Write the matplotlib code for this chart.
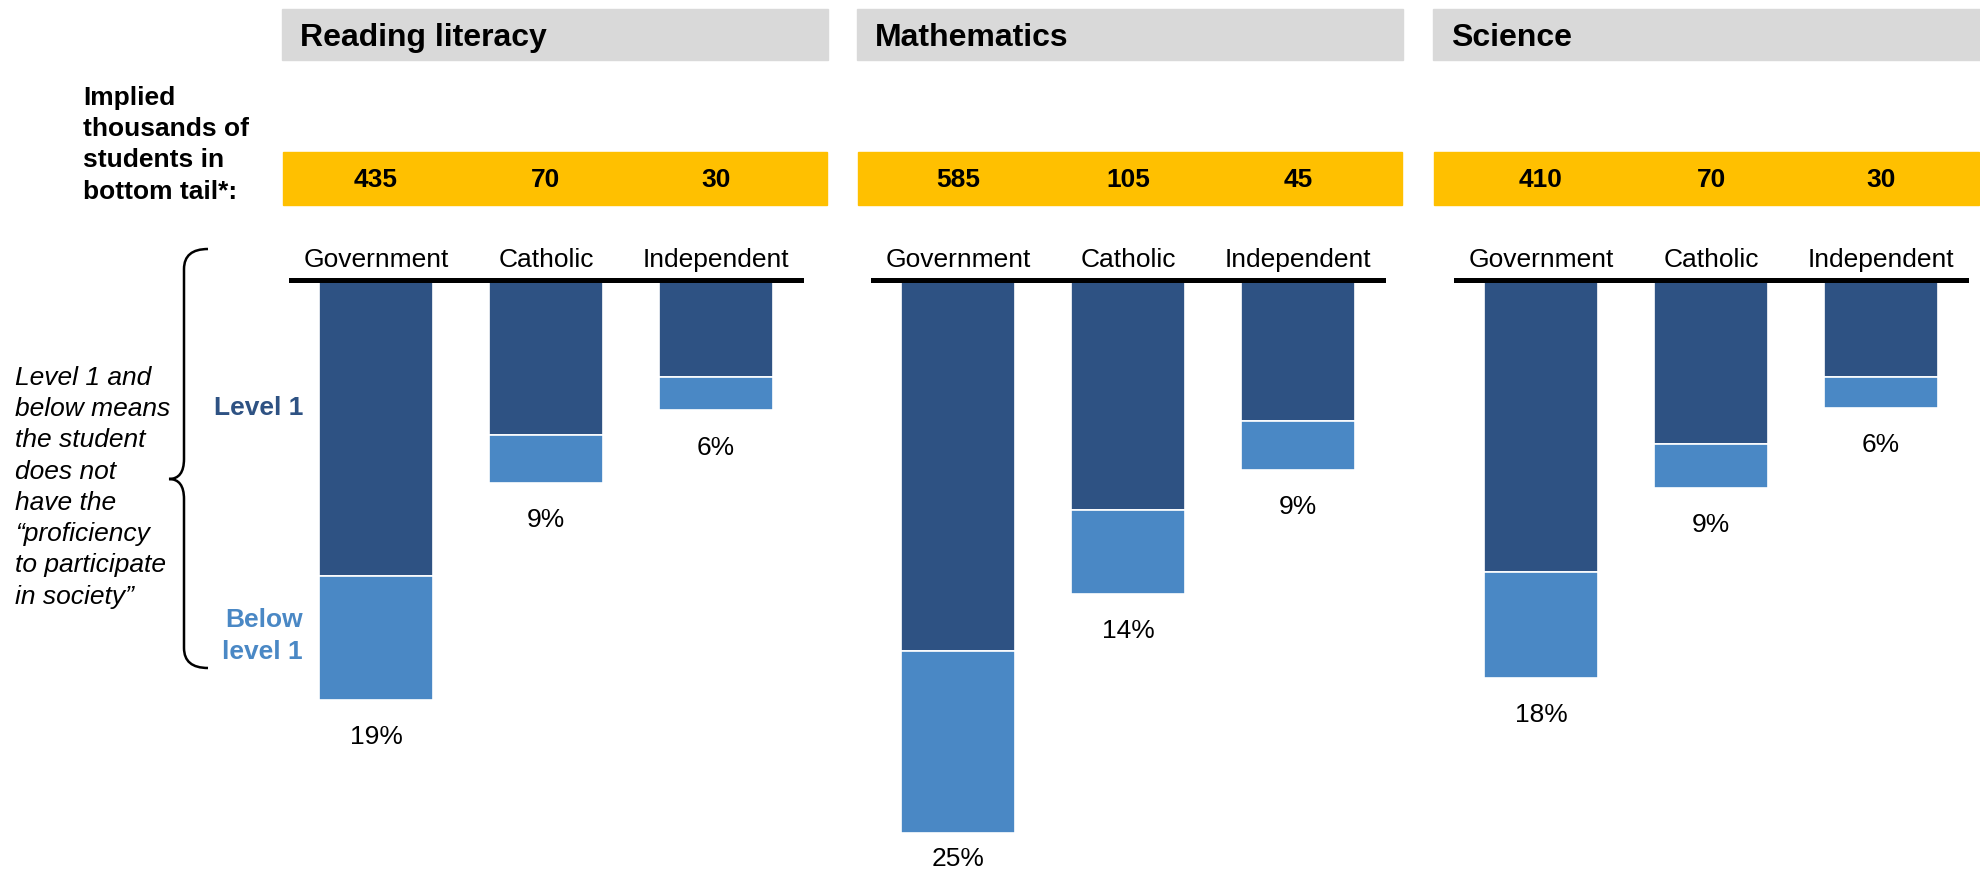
import matplotlib.pyplot as plt
from matplotlib.patches import Rectangle, PathPatch
from matplotlib.path import Path

plt.rcParams['font.family'] = ['Liberation Sans', 'DejaVu Sans']

# --- DATA ---
subjects = ["Reading literacy", "Mathematics", "Science"]
sectors = ["Government", "Catholic", "Independent"]
tail_thousands = [[435, 70, 30], [585, 105, 45], [410, 70, 30]]
# share of students (%) at Level 1 and below Level 1
level1 = [[13.4, 7.0, 4.4], [16.8, 10.4, 6.4], [13.2, 7.4, 4.4]]
below1 = [[5.6, 2.2, 1.5], [8.2, 3.8, 2.2], [4.8, 2.0, 1.4]]

C_DARK = "#2E5283"
C_LIGHT = "#4A88C5"
C_YELLOW = "#FFC000"
C_GREY = "#D9D9D9"

W, H = 1980, 870
fig = plt.figure(figsize=(W / 100, H / 100), dpi=100)


def fx(px):
    return px / W


def fy(py):
    return 1 - py / H


def fig_rect(x0, y0, x1, y1, color):
    fig.patches.append(Rectangle((fx(x0), fy(y1)), fx(x1) - fx(x0), fy(y0) - fy(y1),
                                 transform=fig.transFigure, color=color, zorder=0))


panel_left = [291, 873, 1456]
head_x = [(282, 828), (857, 1403), (1433, 1980)]
step = 170
axis_top, axis_bottom = 281, 870
px_per_pct = 22.1

for p, subj in enumerate(subjects):
    # grey subject header and yellow count strip
    fig_rect(head_x[p][0], 10, head_x[p][1], 61, C_GREY)
    fig.text(fx(head_x[p][0] + 18), fy(38), subj, fontsize=23, fontweight='bold',
             ha='left', va='center')
    fig_rect(head_x[p][0] + 1, 153, head_x[p][1] - 1, 206, C_YELLOW)

    ax = fig.add_axes([fx(panel_left[p]), fy(axis_bottom), 3 * step / W,
                       (axis_bottom - axis_top) / H])
    ax.set_xlim(-0.5, 2.5)
    ax.set_ylim((axis_bottom - axis_top) / px_per_pct, 0)
    ax.axis('off')

    idx = range(len(sectors))
    ax.bar(idx, level1[p], width=0.676, color=C_DARK, edgecolor='white', linewidth=1.2)
    ax.bar(idx, below1[p], bottom=level1[p], width=0.676, color=C_LIGHT,
           edgecolor='white', linewidth=1.2)
    ax.axhline(0, xmin=0, xmax=1, color='black', linewidth=3.6, clip_on=False)

    for i, name in enumerate(sectors):
        total = level1[p][i] + below1[p][i]
        # keep the deepest label inside the page
        off = -26 if total < 22 else -18
        ax.annotate(f"{total:.0f}%", (i, total), xytext=(0, off), textcoords='offset points',
                    ha='center', va='center', fontsize=19, annotation_clip=False)
        ax.annotate(name, (i, 0), xytext=(0, 15), textcoords='offset points',
                    ha='center', va='center', fontsize=19, annotation_clip=False)
        # count label sits in the yellow strip, above each bar
        x_fig = (panel_left[p] + (i + 0.5) * step) / W
        fig.text(x_fig, fy(180), str(tail_thousands[p][i]), fontsize=19,
                 fontweight='bold', ha='center', va='center')

# left-hand annotations
fig.text(fx(83), fy(86), "Implied\nthousands of\nstudents in\nbottom tail*:", fontsize=19,
         fontweight='bold', ha='left', va='top', linespacing=1.38)
fig.text(fx(15), fy(366), "Level 1 and\nbelow means\nthe student\ndoes not\nhave the\n"
         "\u201cproficiency\nto participate\nin society\u201d", fontsize=19, style='italic',
         ha='left', va='top', linespacing=1.38)
fig.text(fx(303), fy(408), "Level 1", fontsize=19, fontweight='bold', color=C_DARK,
         ha='right', va='center')
fig.text(fx(303), fy(636), "Below\nlevel 1", fontsize=19, fontweight='bold', color=C_LIGHT,
         ha='right', va='center', linespacing=1.45)

# curly brace spanning both levels
bx0, bx1, ytop, ymid, ybot = 208, 184, 250, 480, 669
r = 20
verts = [(bx0, ytop), (bx1, ytop), (bx1, ytop + r),
         (bx1, ymid - r),
         (bx1, ymid), (bx1 - 15, ymid),
         (bx1, ymid), (bx1, ymid + r),
         (bx1, ybot - r),
         (bx1, ybot), (bx0, ybot)]
codes = [Path.MOVETO, Path.CURVE3, Path.CURVE3,
         Path.LINETO,
         Path.CURVE3, Path.CURVE3,
         Path.CURVE3, Path.CURVE3,
         Path.LINETO,
         Path.CURVE3, Path.CURVE3]
verts = [(fx(x), fy(y)) for x, y in verts]
fig.patches.append(PathPatch(Path(verts, codes), transform=fig.transFigure,
                             facecolor='none', edgecolor='black', linewidth=1.8))

fig.savefig('out.png', dpi=100)
